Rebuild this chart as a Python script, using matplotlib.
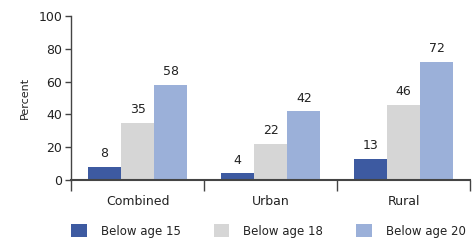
import numpy as np
import matplotlib
matplotlib.use("Agg")
import matplotlib.pyplot as plt

# data
categories = ["Combined", "Urban", "Rural"]
series_names = ["Below age 15", "Below age 18", "Below age 20"]
below_15 = [8, 4, 13]
below_18 = [35, 22, 46]
below_20 = [58, 42, 72]
colors = ["#3d5aa1", "#d6d6d6", "#9bb0d9"]

plt.rcParams['font.family'] = ['DejaVu Sans']
fig = plt.figure(figsize=(4.74, 2.4), dpi=100)
ax = fig.add_axes([0.150, 0.25, 0.8416, 0.683])

x = np.arange(len(categories)) + 0.5
width = 0.25
values = [below_15, below_18, below_20]
for i, (vals, name, c) in enumerate(zip(values, series_names, colors)):
    pos = x + (i - 1) * width
    bars = ax.bar(pos, vals, width, color=c, label=name, zorder=2)
    for xp, v in zip(pos, vals):
        ax.text(xp, v + 4, str(v), ha='center', va='bottom', fontsize=9, color='#222222')

axis_col = '#444444'
ax.set_xlim(0, 3)
ax.set_ylim(0, 100)
ax.set_yticks(np.arange(0, 101, 20))
ax.spines['top'].set_visible(False)
ax.spines['right'].set_visible(False)
ax.spines['left'].set_color(axis_col)
ax.spines['bottom'].set_color(axis_col)
ax.spines['left'].set_linewidth(1.0)
ax.spines['bottom'].set_linewidth(1.5)

ax.set_xticks([0, 1, 2, 3])
ax.set_xticklabels([])
ax.set_xticks(x, minor=True)
ax.set_xticklabels(categories, minor=True, fontsize=9, color='#222222')
ax.tick_params(axis='x', which='major', length=8, width=1, color=axis_col, direction='out')
ax.tick_params(axis='x', which='minor', length=0, pad=11)
ax.tick_params(axis='y', length=4.5, width=1, color=axis_col, labelsize=9, labelcolor='#222222', pad=2)
ax.set_ylabel("Percent", fontsize=8, color='#222222', labelpad=6)

fig.legend(loc='lower left', bbox_to_anchor=(0.128, -0.035), ncol=3, frameon=False,
           fontsize=8.5, handlelength=1.3, handleheight=1.3, handletextpad=1.2,
           columnspacing=2.8, labelcolor='#222222')

fig.savefig("out.png", dpi=100)
